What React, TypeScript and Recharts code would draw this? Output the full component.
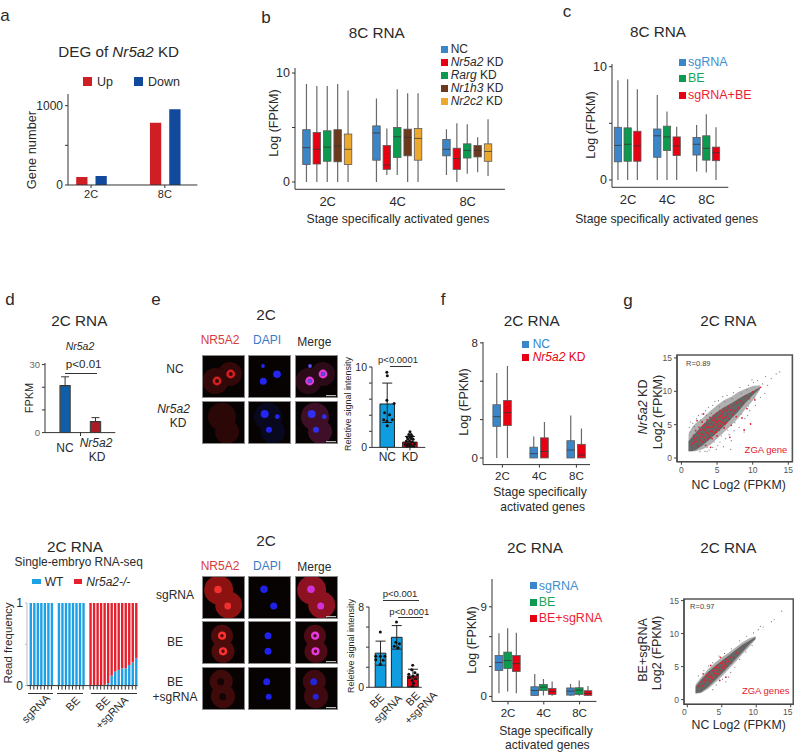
import React from 'react'
import { ComposedChart, Bar, Area, Scatter, XAxis, YAxis, ErrorBar, Cell, ReferenceArea } from 'recharts'

const FONT = '"Liberation Sans", Arial, sans-serif'
const INK = '#2a2a2a'

// panel a
const aStages = ['2C', '8C']
const aUp = [100, 786]
const aDown = [113, 955]

// five number summaries: min, q1, median, q3, max
const bStages = ['2C', '4C', '8C']
const bNC = [[0, 1.6, 3.15, 4.8, 9.0], [0, 2.0, 4.5, 5.15, 7.65], [0.65, 2.4, 3.0, 3.9, 4.85]]
const bNr5a2 = [[0, 1.65, 3.0, 4.55, 8.8], [0.65, 1.15, 1.55, 3.35, 4.9], [0, 1.15, 2.15, 3.1, 5.4]]
const bRarg = [[0, 1.9, 3.2, 4.7, 8.8], [0.65, 2.25, 4.15, 5.0, 8.5], [0.75, 2.2, 2.9, 3.5, 5.3]]
const bNr1h3 = [[0, 1.85, 3.3, 4.8, 9.0], [0, 2.4, 4.1, 4.85, 8.15], [0.9, 2.3, 2.9, 3.35, 4.1]]
const bNr2c2 = [[0, 1.6, 3.0, 4.4, 8.4], [0, 2.0, 4.0, 4.9, 8.15], [0.55, 1.9, 2.8, 3.5, 5.75]]

const cSg = [[0, 1.6, 3.05, 4.65, 8.8], [0, 2.0, 3.9, 4.5, 7.5], [0.75, 2.2, 3.15, 3.75, 4.85]]
const cBE = [[0, 1.65, 3.15, 4.6, 8.9], [0, 2.6, 3.8, 4.75, 6.05], [0.65, 1.75, 2.8, 3.9, 5.8]]
const cBoth = [[0, 1.65, 3.0, 4.3, 8.0], [0, 2.15, 3.0, 3.8, 4.7], [0, 1.7, 2.4, 2.9, 4.65]]

const fNC = [[0, 2.2, 2.87, 3.7, 5.9], [0, 0, 0.3, 0.75, 1.5], [0, 0, 0.55, 1.2, 2.95]]
const fKD = [[0, 2.25, 3.15, 4.0, 6.4], [0, 0, 0.45, 1.4, 2.5], [0, 0, 0.2, 0.95, 2.05]]

const f2Sg = [[0.33, 2.6, 3.4, 4.1, 6.35], [0.07, 0.1, 0.6, 0.97, 2.25], [0.07, 0.13, 0.53, 0.85, 1.25]]
const f2BE = [[0.5, 2.8, 3.6, 4.45, 6.85], [0.1, 0.6, 0.93, 1.2, 1.75], [0.07, 0.2, 0.63, 0.87, 1.6]]
const f2Both = [[0.33, 2.5, 3.3, 4.1, 6.4], [0.07, 0.2, 0.5, 0.8, 1.5], [0.07, 0.1, 0.3, 0.57, 1.05]]

// panel d
const dLabels = ['NC', 'Nr5a2 KD']
const dValues = [20.7, 4.85]
const dErrUp = [3.9, 1.75]

// panel e bars, dots are placed on a position scale where bar n sits at n
const e1Labels = ['NC', 'KD']
const e1Bars = [5.4, 0.66]
const e1ErrLow = [2.3, 0.5]
const e1ErrHigh = [2.6, 0.7]
const e1Dots = [[0.98, 9.35], [1.0, 8.9], [0.98, 5.85], [1.3, 5.45], [0.88, 4.3], [1.1, 4.05], [0.84, 3.45], [1.22, 3.45], [0.98, 3.25], [1.0, 2.7]]
const e1KdDots = [[2.0, 1.95], [1.95, 1.6], [2.05, 1.6], [2.1, 1.4], [1.88, 1.3], [2.0, 1.3], [1.9, 1.05], [2.06, 1.1], [2.14, 1.0], [1.84, 0.75], [1.98, 0.8], [2.1, 0.7], [2.2, 0.45], [1.8, 0.4], [1.92, 0.4], [2.04, 0.35], [1.86, 0.15], [2.0, 0.12], [2.16, 0.15]]

const e2Labels = ['BE', 'sgRNA', 'BE +sgRNA']
const e2Bars = [3.4, 4.98, 1.13]
const e2ErrLow = [1.2, 1.18, 1.08]
const e2ErrHigh = [1.2, 1.17, 0.67]
const e2Dots = [[1.0, 5.5], [0.72, 3.1], [1.0, 3.1], [1.27, 3.1], [0.72, 2.75], [1.18, 2.7], [1.0, 2.3], [2.0, 6.5], [1.96, 4.5], [2.18, 4.35], [1.86, 4.1], [2.1, 3.95], [3.0, 2.2], [2.94, 1.75], [3.14, 1.45], [2.76, 1.3], [3.3, 1.25], [3.02, 1.1], [2.8, 0.95], [3.18, 0.85], [2.96, 0.65], [3.06, 0.4], [3.0, 0.1]]

// single embryo read frequency, '' marks the blank slots between groups
const hSlots = ['s1', 's2', 's3', 's4', 's5', 's6', 's7', '', 'b1', 'b2', 'b3', 'b4', 'b5', 'b6', 'b7', 'b8', '', 'm1', 'm2', 'm3', 'm4', 'm5', 'm6', 'm7', 'm8', 'm9', 'm10', 'm11', 'm12', 'm13', 'm14']
const hWT = [1, 1, 1, 1, 1, 1, 1, null, 1, 1, 1, 1, 1, 1, 1, 1, null, 0, 0, 0, 0, 0.01, 0.03, 0.12, 0.17, 0.19, 0.21, 0.21, 0.25, 0.28, 0.33]

// scatter clouds, band edges
const g1X = [1, 1.5, 2, 3, 4, 5, 6, 7, 8, 9, 10, 11]
const g1OuterLo = [1, 1, 1, 1.3, 1.9, 2.9, 3.9, 4.9, 6, 7.4, 8.6, 10.2]
const g1OuterHi = [3.6, 4.6, 5.2, 6, 7, 7.9, 8.7, 9.2, 9.9, 10.4, 10.8, 10.9]
const g1InnerLo = [1, 1, 1.2, 1.9, 2.8, 3.8, 4.8, 5.9, 7, 8.3, 9.4, 10.4]
const g1InnerHi = [2.5, 3.2, 3.8, 5, 6, 6.9, 7.6, 8.2, 8.9, 9.5, 10, 10.6]
const g1Grey = [[1.1, 4.6], [1.3, 5.4], [1.6, 5.2], [2.1, 5.9], [2.4, 6.4], [2.9, 6.6], [3.4, 7.1], [3.8, 7.6], [4.4, 7.9], [4.7, 8.5], [5.2, 8.6], [5.8, 9.2], [6.4, 9.4], [7.3, 9.8], [8.2, 10.6], [9.4, 10.9], [10.1, 11.3], [10.7, 11.6], [11.4, 11.1], [12.1, 10.9], [12.6, 11.9], [13.3, 12.6], [13.8, 12.9], [11.8, 12.2], [9.9, 11.7], [3.3, 1.0], [3.9, 1.2], [4.4, 1.6], [5.1, 1.9], [5.4, 2.4], [6.2, 2.9], [6.7, 3.5], [7.4, 4.1], [8.1, 4.6], [8.8, 3.9], [8.9, 5.9], [9.6, 7.1], [10.4, 7.9], [11.1, 9.1], [11.7, 9.7], [4.9, 1.3], [5.9, 1.7], [7.0, 2.6], [2.6, 0.95], [3.6, 0.98], [6.9, 1.3], [9.3, 6.4], [10.9, 10.4], [1.2, 3.9], [1.8, 4.7], [2.7, 5.7], [3.5, 6.4], [4.2, 6.7], [5.3, 7.7], [6.1, 8.4], [7.1, 8.9], [8.4, 9.7], [9.2, 10.2], [3.6, 1.6], [4.6, 2.4], [5.6, 3.3], [6.5, 4.2], [7.5, 5.3], [8.4, 6.6], [9.4, 7.8], [10.3, 9.0]]
const g1Red = [[1.4, 1.9], [1.7, 3.4], [1.9, 2.4], [2.0, 4.1], [2.2, 3.1], [2.3, 1.8], [2.5, 4.6], [2.6, 2.7], [2.8, 3.6], [2.9, 5.4], [3.0, 2.4], [3.1, 4.3], [3.2, 3.1], [3.3, 5.0], [3.4, 1.9], [3.5, 3.8], [3.6, 5.7], [3.7, 2.9], [3.8, 4.6], [3.9, 3.4], [4.0, 6.1], [4.1, 4.0], [4.2, 5.2], [4.3, 2.9], [4.4, 4.7], [4.5, 6.4], [4.6, 3.7], [4.7, 5.6], [4.8, 4.3], [4.9, 6.7], [5.0, 3.3], [5.1, 5.1], [5.2, 6.1], [5.3, 4.2], [5.4, 7.1], [5.5, 5.5], [5.6, 4.7], [5.7, 6.5], [5.8, 5.3], [5.9, 7.4], [6.0, 4.5], [6.1, 6.1], [6.2, 7.0], [6.3, 5.3], [6.5, 6.6], [6.6, 7.7], [6.7, 5.9], [6.9, 7.2], [7.0, 4.9], [7.2, 6.5], [7.3, 7.9], [7.5, 7.1], [7.7, 6.2], [7.8, 8.3], [8.0, 7.5], [8.3, 8.6], [8.5, 6.0], [8.7, 8.2], [9.0, 9.3], [9.2, 7.4], [9.5, 8.9], [10.0, 9.9], [10.3, 8.7], [11.1, 10.6], [8.8, 4.2], [9.7, 5.1], [3.1, 6.6], [2.2, 5.6], [6.8, 3.1], [4.1, 1.6], [1.6, 2.2], [1.8, 2.9], [2.1, 2.5], [2.4, 3.7], [2.7, 3.1], [2.7, 4.2], [3.0, 3.5], [3.0, 4.8], [3.3, 4.2], [3.4, 2.7], [3.5, 4.6], [3.7, 3.7], [3.7, 5.2], [4.0, 4.6], [4.0, 3.1], [4.3, 5.7], [4.3, 4.0], [4.6, 5.0], [4.6, 6.0], [4.9, 5.4], [4.9, 3.9], [5.2, 4.7], [5.2, 5.6], [5.5, 6.3], [5.5, 4.9], [5.8, 6.0], [5.8, 6.9], [6.1, 5.1], [6.4, 6.2], [6.4, 7.2]]

const g2X = [1.2, 2, 3, 4, 5, 6, 7, 8, 9, 9.9]
const g2OuterLo = [0.9, 1, 1.6, 2.5, 3.5, 4.6, 5.7, 6.9, 8.0, 9.1]
const g2OuterHi = [2.3, 3.4, 4.6, 5.6, 6.4, 7.1, 7.9, 8.7, 9.3, 9.6]
const g2InnerLo = [0.95, 1.1, 1.9, 2.9, 3.9, 5, 6.1, 7.2, 8.4, 9.2]
const g2InnerHi = [2.0, 3.0, 4.2, 5.1, 5.9, 6.7, 7.5, 8.3, 8.9, 9.5]
const g2Grey = [[1.6, 3.6], [2.4, 4.4], [3.1, 5.1], [3.7, 5.6], [4.6, 6.6], [5.4, 7.0], [6.4, 7.7], [7.6, 8.9], [8.6, 9.6], [9.6, 10.1], [10.3, 10.6], [10.6, 11.1], [11.0, 11.0], [12.2, 11.8], [12.6, 12.1], [13.7, 13.4], [4.2, 2.2], [5.1, 3.1], [5.6, 2.7], [6.3, 4.1], [6.9, 4.9], [7.6, 6.1], [8.5, 7.2], [9.4, 8.2], [6.0, 3.4], [3.7, 1.5]]
const g2Red = [[1.7, 2.0], [2.0, 2.7], [2.2, 2.1], [2.4, 3.2], [2.6, 2.5], [2.8, 3.7], [2.9, 2.9], [3.1, 3.4], [3.2, 4.1], [3.3, 2.8], [3.5, 3.7], [3.6, 4.4], [3.7, 3.2], [3.9, 4.0], [4.0, 4.8], [4.1, 3.5], [4.3, 4.4], [4.4, 5.2], [4.5, 3.9], [4.6, 4.8], [4.8, 5.5], [4.9, 4.4], [5.0, 5.1], [5.2, 5.8], [5.3, 4.7], [5.5, 5.4], [5.7, 6.1], [5.8, 5.1], [6.0, 5.8], [6.2, 6.4], [6.4, 5.6], [6.7, 6.4], [7.1, 7.1], [2.3, 3.9], [3.4, 5.2], [4.7, 2.9], [5.6, 3.4], [4.8, 6.4], [2.5, 2.9], [3.0, 3.9], [3.4, 3.4], [3.8, 4.4], [4.2, 3.9], [4.2, 4.9], [4.7, 4.4], [5.1, 4.8], [5.1, 5.5], [5.4, 5.1], [5.6, 5.7]]

const tickLabel = (shown: number[]) => (v: number) => (shown.includes(v) ? String(v) : '')

const YW = 40
const XH = 26
const PAD = { top: 6, right: 6, left: 0, bottom: 0 }

// wrapper rectangle so the plot area lands on the given axis pixels
const place = (ax: number, xEnd: number, yTop: number, yBottom: number) => ({
    style: { position: 'absolute', left: ax - YW, top: yTop - PAD.top } as React.CSSProperties,
    width: xEnd - ax + YW + PAD.right,
    height: yBottom - yTop + PAD.top + XH,
})

const T = ({ x, y, s = 12, c = INK, r = 0, left = false, children }: any) => (
    <div style={{
        position: 'absolute', left: x, top: y, fontSize: s, color: c, lineHeight: 1, whiteSpace: 'nowrap', fontFamily: FONT,
        transform: `translate(${left ? '0' : '-50%'},-50%) rotate(${r}deg)`,
    }}>{children}</div>
)

const Sq = ({ x, y, w = 7, h = 7, c }: any) => (
    <div style={{ position: 'absolute', left: x, top: y - h / 2, width: w, height: h, background: c }} />
)

const Rule = ({ x, y, w = 1, h = 1, c = '#333' }: any) => (
    <div style={{ position: 'absolute', left: x, top: y, width: w, height: h, background: c }} />
)

const makeBox = (summaries: number[][]) => (props: any) => {
    const { x, y, width, height, fill, index } = props
    const [min, q1, med, q3, max] = summaries[index]
    const perUnit = height / (q3 - q1)
    const yOf = (v: number) => y + (q3 - v) * perUnit
    const cx = x + width / 2
    return (
        <g>
            <line x1={cx} x2={cx} y1={yOf(max)} y2={yOf(min)} stroke="#6a6a6a" strokeWidth={1.2} />
            <rect x={x} y={y} width={width} height={height} fill={fill} stroke="#5a5a5a" strokeWidth={0.8} />
            <line x1={x} x2={x + width} y1={yOf(med)} y2={yOf(med)} stroke="#333" strokeWidth={0.9} opacity={0.85} />
        </g>
    )
}

const BoxPanel = ({ ax, xEnd, yTop, yBottom, padLeft, padRight, stages, series, colors, domain, ticks, shown, boxW, gap, tickSize, xSize, xTick = false }: any) => {
    const rows = stages.map((stage: string, i: number) => {
        const row: any = { stage }
        series.forEach((s: number[][], k: number) => { row['s' + k] = [s[i][1], s[i][3]] })
        return row
    })
    const p = place(ax, xEnd, yTop, yBottom)
    return (
        <div style={p.style}>
            <ComposedChart width={p.width} height={p.height} data={rows} margin={PAD} barSize={boxW} barGap={gap}>
                <XAxis dataKey="stage" padding={{ left: padLeft, right: padRight }} height={XH} interval={0}
                    stroke="#333" tick={{ fontSize: xSize, fill: INK, fontFamily: FONT }} tickLine={xTick} tickSize={3} tickMargin={4} />
                <YAxis width={YW} type="number" domain={domain} ticks={ticks} interval={0} allowDataOverflow
                    stroke="#333" tick={{ fontSize: tickSize, fill: INK, fontFamily: FONT }} tickSize={3} tickFormatter={tickLabel(shown)} />
                {series.map((s: number[][], k: number) => (
                    <Bar key={k} dataKey={'s' + k} fill={colors[k]} isAnimationActive={false} shape={makeBox(s)} />
                ))}
            </ComposedChart>
        </div>
    )
}

const dot = (r: number, fill: string) => (props: any) => <circle cx={props.cx} cy={props.cy} r={r} fill={fill} />
const toPoints = (list: number[][]) => list.map(([x, y]) => ({ x, y }))

const CloudPanel = ({ ax, xEnd, yTop, yBottom, xDomain, yDomain, xs, outerLo, outerHi, innerLo, innerHi, grey, red, tickDx = 0 }: any) => {
    const band = xs.map((x: number, i: number) => ({ x, outer: [outerLo[i], outerHi[i]], inner: [innerLo[i], innerHi[i]] }))
    const p = place(ax, xEnd, yTop, yBottom)
    return (
        <div style={p.style}>
            <ComposedChart width={p.width} height={p.height} margin={PAD}>
                <XAxis dataKey="x" type="number" domain={xDomain} ticks={[0, 5, 10, 15]} interval={0} allowDataOverflow height={XH}
                    stroke="#444" tick={{ fontSize: 8.5, fill: '#555', fontFamily: FONT, dx: tickDx }} tickSize={3} />
                <YAxis dataKey="y" width={YW} type="number" domain={yDomain} ticks={[0, 5, 10, 15]} interval={0} allowDataOverflow
                    stroke="#444" tick={{ fontSize: 8.5, fill: '#555', fontFamily: FONT }} tickSize={3} />
                <ReferenceArea x1={xDomain[0]} x2={xDomain[1]} y1={yDomain[0]} y2={yDomain[1]} fill="none" stroke="#555" strokeWidth={1.6} ifOverflow="visible" />
                <Area data={band} dataKey="outer" stroke="none" fill="#9c9c9c" fillOpacity={0.8} isAnimationActive={false} dot={false} />
                <Area data={band} dataKey="inner" stroke="none" fill="#626262" fillOpacity={0.95} isAnimationActive={false} dot={false} />
                <Scatter data={toPoints(grey)} fill="#777" isAnimationActive={false} shape={dot(0.6, '#777')} />
                <Scatter data={toPoints(red)} fill="#de2430" isAnimationActive={false} shape={dot(0.9, '#de2430')} />
            </ComposedChart>
        </div>
    )
}

// bars on a category axis, dots on a hidden position axis laid over it
const DotBars = ({ ax, xEnd, yTop, yBottom, padLeft, padRight, posDomain, yDomain, yTicks, shown, names, values, errLow, errHigh, colors, dots, barW, showNames }: any) => {
    const rows = names.map((name: string, i: number) => ({ name, value: values[i], err: [errLow[i], errHigh[i]] }))
    const p = place(ax, xEnd, yTop, yBottom)
    return (
        <div style={p.style}>
            <ComposedChart width={p.width} height={p.height} data={rows} margin={PAD} barSize={barW}>
                <XAxis dataKey="name" padding={{ left: padLeft, right: padRight }} interval={0} height={XH} stroke="#333" tickSize={3}
                    tick={showNames ? { fontSize: 12, fill: INK, fontFamily: FONT } : false} />
                <XAxis xAxisId="pos" dataKey="x" type="number" domain={posDomain} allowDataOverflow hide />
                <YAxis width={YW} type="number" domain={yDomain} ticks={yTicks} interval={0} allowDataOverflow
                    stroke="#333" tick={{ fontSize: 10.5, fill: INK, fontFamily: FONT }} tickSize={3} tickFormatter={tickLabel(shown)} />
                <Bar dataKey="value" stroke="#222" strokeWidth={1} isAnimationActive={false}>
                    {values.map((_: number, i: number) => <Cell key={i} fill={colors[i]} />)}
                    <ErrorBar dataKey="err" direction="y" width={5} stroke="#222" strokeWidth={1} isAnimationActive={false} />
                </Bar>
                <Scatter xAxisId="pos" data={toPoints(dots)} dataKey="y" fill="#111" isAnimationActive={false} shape={dot(1.5, '#111')} />
            </ComposedChart>
        </div>
    )
}

// fluorescence tiles: cell bodies, nuclei, rings
const Micro = ({ x, y, body = [], nuclei = [], ring = [], bodyColor, nucColor, ringColor = '#ff3030', scale = false }: any) => (
    <svg width={43} height={43} style={{ position: 'absolute', left: x, top: y, background: '#070303', outline: '1px solid #8a8a8a', outlineOffset: -1 }}>
        <g style={{ filter: 'blur(0.7px)' }}>
            {body.map((b: number[], i: number) => <circle key={i} cx={b[0]} cy={b[1]} r={b[2]} fill={bodyColor} />)}
            {ring.map((b: number[], i: number) => <circle key={i} cx={b[0]} cy={b[1]} r={b[2]} fill="none" stroke={ringColor} strokeWidth={2.4} />)}
            {nuclei.map((b: number[], i: number) => <circle key={i} cx={b[0]} cy={b[1]} r={b[2]} fill={nucColor} />)}
        </g>
        {scale && <rect x={31} y={40} width={10} height={1.2} fill="#bbb" />}
    </svg>
)

const COLX = [201.7, 248.3, 294.7]
const topCells = [[13.5, 26, 13], [28, 19, 12]]
const koCells = [[20, 15.7, 14], [25, 30.7, 12]]
const sgCells = [[16.7, 14, 14.5], [26.7, 29, 13.5]]
const beCells = [[20, 14.7, 11], [21, 30.3, 11.5]]
const bothCells = [[19.3, 14.3, 11.5], [21, 29.3, 12]]

const Tiles = () => (
    <>
        <Micro x={COLX[0]} y={355.3} body={topCells} bodyColor="#330808" ring={[[15, 26, 3.2], [28.7, 19, 3.2]]} ringColor="#d81f1f" />
        <Micro x={COLX[1]} y={355.3} nuclei={[[29, 19.3, 3.8], [15.3, 26.3, 3.5], [15, 11, 1.9]]} nucColor="#2326f2" />
        <Micro x={COLX[2]} y={355.3} body={topCells} bodyColor="#2c0b18" ring={[[14.7, 26, 3.2], [28, 19, 3.2]]} ringColor="#e638d8" nuclei={[[14.7, 26, 1.9], [28, 19, 1.9], [15, 11, 1.9]]} nucColor="#5a50ee" scale />

        <Micro x={COLX[0]} y={401} body={koCells} bodyColor="#2b0707" />
        <Micro x={COLX[1]} y={401} body={koCells} bodyColor="#08081f" nuclei={[[16.7, 13, 4], [29.3, 15.7, 2.4], [21, 28.7, 3]]} nucColor="#2326f2" />
        <Micro x={COLX[2]} y={401} body={koCells} bodyColor="#3e0f26" nuclei={[[16.7, 13, 4], [29.3, 15.7, 2.4], [21, 28.7, 3]]} nucColor="#3030ee" scale />

        <Micro x={COLX[0]} y={576} body={sgCells} bodyColor="#8c1212" nuclei={[[16, 13.5, 3.8], [25.7, 30, 3.4]]} nucColor="#f03030" />
        <Micro x={COLX[1]} y={576} nuclei={[[16, 13.3, 3.8], [25.7, 30, 3.5]]} nucColor="#2020e8" />
        <Micro x={COLX[2]} y={576} body={sgCells} bodyColor="#8c1222" nuclei={[[16, 13.3, 3.8], [25.7, 30, 3.5]]} nucColor="#d030d8" scale />

        <Micro x={COLX[0]} y={621.3} body={beCells} bodyColor="#4e0b0b" ring={[[20, 14.7, 2.9], [21, 30.3, 2.9]]} />
        <Micro x={COLX[1]} y={621.3} nuclei={[[20, 14.7, 3.5], [20, 30.3, 3.5]]} nucColor="#2020f0" />
        <Micro x={COLX[2]} y={621.3} body={beCells} bodyColor="#4e0b16" ring={[[20, 14.7, 2.9], [20.5, 30.3, 2.9]]} ringColor="#e838e0" scale />

        <Micro x={COLX[0]} y={667.3} body={bothCells} bodyColor="#3e0a0a" nuclei={[[18.7, 14.7, 3.5], [20.7, 29.7, 3.5]]} nucColor="#140404" />
        <Micro x={COLX[1]} y={667.3} nuclei={[[18.7, 14.7, 3.5], [20.7, 29.7, 3]]} nucColor="#2020e8" />
        <Micro x={COLX[2]} y={667.3} body={bothCells} bodyColor="#3e0a10" nuclei={[[18.7, 14.7, 3.5], [20.7, 29.7, 3]]} nucColor="#2424d8" scale />
    </>
)

const App = () => {
    const BLUE = '#3a86c8'
    const RED = '#e60012'
    const GREEN = '#0b9a4f'
    const BROWN = '#6b3a1c'
    const ORANGE = '#eda92e'

    const aRows = aStages.map((stage, i) => ({ stage, up: aUp[i], down: aDown[i] }))
    const aBox = place(68.3, 197.7, 94.3, 185.3)
    const dRows = dLabels.map((name, i) => ({ name, value: dValues[i], err: [0, dErrUp[i]] }))
    const dBox = place(45, 115.3, 362.7, 432.3)
    const hRows = hSlots.map((slot, i) => ({ slot, wt: hWT[i], mut: hWT[i] === null ? null : 1 - (hWT[i] as number) }))
    const hBox = place(26.7, 137.3, 602.7, 685.3)

    return (
        <div style={{ position: 'absolute', left: 0, top: 0, width: 794, height: 753, overflow: 'hidden', background: '#fff', fontFamily: FONT }}>
            {/* a */}
            <div style={aBox.style}>
                <ComposedChart width={aBox.width} height={aBox.height} data={aRows} margin={PAD} barSize={11.3} barGap={8}>
                    <XAxis dataKey="stage" padding={{ left: -13.8, right: -4.3 }} height={XH} stroke="#333"
                        tick={{ fontSize: 11, fill: INK, fontFamily: FONT }} tickSize={3} />
                    <YAxis width={YW} type="number" domain={[0, 1147]} ticks={[0, 500, 1000]} interval={0} allowDataOverflow stroke="#333"
                        tick={{ fontSize: 12, fill: INK, fontFamily: FONT }} tickSize={3} tickFormatter={tickLabel([0, 1000])} />
                    <Bar dataKey="up" fill="#cf1f25" isAnimationActive={false} />
                    <Bar dataKey="down" fill="#12499c" isAnimationActive={false} />
                </ComposedChart>
            </div>

            <BoxPanel ax={295} xEnd={505} yTop={67.7} yBottom={189} padLeft={-2.3} padRight={2.3} stages={bStages}
                series={[bNC, bNr5a2, bRarg, bNr1h3, bNr2c2]} colors={[BLUE, RED, GREEN, BROWN, ORANGE]}
                domain={[-0.67, 10.46]} ticks={[0, 5, 10]} shown={[0, 10]} boxW={7.5} gap={2.9} tickSize={12.5} xSize={13} />

            <BoxPanel ax={612} xEnd={728.3} yTop={64} yBottom={187.3} padLeft={-3.7} padRight={2} stages={bStages}
                series={[cSg, cBE, cBoth]} colors={[BLUE, GREEN, RED]}
                domain={[-0.65, 10.24]} ticks={[0, 5, 10]} shown={[0, 10]} boxW={7.3} gap={2.4} tickSize={12.5} xSize={13} />

            <BoxPanel ax={483.3} xEnd={590.3} yTop={341.7} yBottom={464.3} padLeft={0.9} padRight={-4.9} stages={bStages}
                series={[fNC, fKD]} colors={[BLUE, RED]}
                domain={[-0.46, 8.06]} ticks={[0, 8 / 3, 16 / 3, 8]} shown={[0, 8]} boxW={7.7} gap={3} tickSize={11.5} xSize={11.5} xTick />

            <BoxPanel ax={492.3} xEnd={596.7} yTop={579.3} yBottom={701.7} padLeft={-1.9} padRight={-1.1} stages={bStages}
                series={[f2Sg, f2BE, f2Both]} colors={[BLUE, GREEN, RED]}
                domain={[-0.5, 11.79]} ticks={[0, 3, 6, 9]} shown={[0, 9]} boxW={7.7} gap={1} tickSize={11.5} xSize={11.5} xTick />

            {/* d */}
            <div style={dBox.style}>
                <ComposedChart width={dBox.width} height={dBox.height} data={dRows} margin={PAD} barSize={10}>
                    <XAxis dataKey="name" padding={{ left: 5.1, right: 4.4 }} height={XH} stroke="#333" tick={false} tickLine={false} />
                    <YAxis width={YW} type="number" domain={[0, 30.7]} ticks={[0, 10, 20, 30]} interval={0} allowDataOverflow stroke="#333"
                        tick={{ fontSize: 9.5, fill: '#666', fontFamily: FONT }} tickSize={3} tickFormatter={tickLabel([0, 30])} />
                    <Bar dataKey="value" stroke="#444" strokeWidth={1.4} isAnimationActive={false}>
                        <Cell fill="#0f5fa8" />
                        <Cell fill="#aa1c25" />
                        <ErrorBar dataKey="err" direction="y" width={4} stroke="#333" strokeWidth={1} isAnimationActive={false} />
                    </Bar>
                </ComposedChart>
            </div>

            <DotBars ax={371.7} xEnd={425} yTop={367.3} yBottom={447.7} padLeft={3.97} padRight={4} posDomain={[0.325, 2.676]} yDomain={[0, 10]} yTicks={[0, 2, 4, 6, 8, 10]} shown={[0, 10]}
                names={e1Labels} values={e1Bars} errLow={e1ErrLow} errHigh={e1ErrHigh} colors={['#0f9ddf', '#e60012']} dots={[...e1Dots, ...e1KdDots]} barW={14.5} showNames />

            <DotBars ax={369} xEnd={421.7} yTop={606.7} yBottom={687} padLeft={3.2} padRight={0.9} posDomain={[0.3, 3.556]} yDomain={[0, 8]} yTicks={[0, 2, 4, 6, 8]} shown={[0, 8]}
                names={e2Labels} values={e2Bars} errLow={e2ErrLow} errHigh={e2ErrHigh} colors={['#0f9ddf', '#0f9ddf', '#e60012']} dots={e2Dots} barW={10.7} />

            {/* single embryo */}
            <div style={hBox.style}>
                <ComposedChart width={hBox.width} height={hBox.height} data={hRows} margin={PAD} barSize={2.4}>
                    <XAxis dataKey="slot" padding={{ left: 1.6, right: 0 }} height={XH} interval={0} stroke="#333" tickLine={false}
                        tick={(p: any) => (p.payload.value ? <line x1={p.x} x2={p.x} y1={p.y - 8} y2={p.y - 4} stroke="#333" /> : <g />)} />
                    <YAxis width={YW} type="number" domain={[0, 1]} ticks={[0, 0.5, 1]} interval={0} stroke="#bbb"
                        tick={{ fontSize: 12, fill: INK, fontFamily: FONT }} tickSize={2} tickFormatter={tickLabel([0, 1])} />
                    <Bar dataKey="wt" stackId="a" fill="#1ea0e6" isAnimationActive={false} />
                    <Bar dataKey="mut" stackId="a" fill="#e6202c" isAnimationActive={false} />
                </ComposedChart>
            </div>

            <CloudPanel ax={677.3} xEnd={792.7} yTop={355} yBottom={461.7} xDomain={[-0.62, 15.57]} yDomain={[-0.55, 15.44]}
                xs={g1X} outerLo={g1OuterLo} outerHi={g1OuterHi} innerLo={g1InnerLo} innerHi={g1InnerHi} grey={g1Grey} red={g1Red} />
            <CloudPanel ax={684} xEnd={793.3} yTop={598.7} yBottom={704} xDomain={[-0.48, 15.38]} yDomain={[-0.71, 15.24]}
                xs={g2X} outerLo={g2OuterLo} outerHi={g2OuterHi} innerLo={g2InnerLo} innerHi={g2InnerHi} grey={g2Grey} red={g2Red} tickDx={-3} />

            <Tiles />

            {/* panel letters */}
            <T x={5} y={15} s={17}>a</T>
            <T x={266} y={17} s={17}>b</T>
            <T x={567} y={11} s={17}>c</T>
            <T x={10} y={299} s={17}>d</T>
            <T x={156} y={299} s={17}>e</T>
            <T x={443} y={299} s={17}>f</T>
            <T x={628} y={300} s={17}>g</T>

            {/* a text */}
            <T x={118.7} y={51.7} s={15.2}>DEG of <i>Nr5a2</i> KD</T>
            <Sq x={83} y={81.7} w={9} h={9} c="#cf1f25" />
            <T x={97} y={81.7} s={12.5} left>Up</T>
            <Sq x={134} y={81.7} w={9} h={9} c="#12499c" />
            <T x={148} y={81.7} s={12.5} left>Down</T>
            <T x={31.7} y={150} s={12.8} r={-90}>Gene number</T>

            {/* b text */}
            <T x={376.7} y={32.7} s={15.3}>8C RNA</T>
            <Sq x={441} y={49} c={BLUE} /><T x={450.7} y={49} left>NC</T>
            <Sq x={441} y={62} c={RED} /><T x={450.7} y={62} left><i>Nr5a2</i> KD</T>
            <Sq x={441} y={75} c={GREEN} /><T x={450.7} y={75} left><i>Rarg</i> KD</T>
            <Sq x={441} y={88} c={BROWN} /><T x={450.7} y={88} left><i>Nr1h3</i> KD</T>
            <Sq x={441} y={101.3} c={ORANGE} /><T x={450.7} y={101.3} left><i>Nr2c2</i> KD</T>
            <T x={274} y={123} s={12.5} r={-90}>Log (FPKM)</T>
            <T x={398} y={218.7} s={12.2}>Stage specifically activated genes</T>

            {/* c text */}
            <T x={658} y={31.7} s={15.3}>8C RNA</T>
            <Sq x={678.7} y={62} c={BLUE} /><T x={688} y={62} s={12.5} c="#3f8fd0" left>sgRNA</T>
            <Sq x={678.7} y={78.3} c={GREEN} /><T x={688} y={78.3} s={12.5} c="#1aa65a" left>BE</T>
            <Sq x={678.7} y={95} c={RED} /><T x={688} y={95} s={12.5} c="#ef1c34" left>sgRNA+BE</T>
            <T x={591} y={125} s={12.5} r={-90}>Log (FPKM)</T>
            <T x={666.7} y={219} s={12.2}>Stage specifically activated genes</T>

            {/* d text */}
            <T x={79.3} y={321} s={15.3}>2C RNA</T>
            <T x={80} y={345.7} s={10.5}><i>Nr5a2</i></T>
            <T x={83.7} y={364.3} s={11.6}>p&lt;0.01</T>
            <Rule x={65} y={373} w={32} />
            <Rule x={80} y={432} h={4} />
            <T x={29.3} y={398} s={11} r={-90}>FPKM</T>
            <T x={65} y={448.3} s={12}>NC</T>
            <T x={96} y={442.7} s={12}><i>Nr5a2</i></T>
            <T x={97} y={457.3} s={12}>KD</T>

            {/* e top text */}
            <T x={266} y={315} s={15.3}>2C</T>
            <T x={220} y={340} s={12} c="#d93a3a">NR5A2</T>
            <T x={267} y={340} s={12} c="#3b7cc4">DAPI</T>
            <T x={314.3} y={341.7} s={12}>Merge</T>
            <T x={175} y={369.3} s={12}>NC</T>
            <T x={173.5} y={408.7} s={12}><i>Nr5a2</i></T>
            <T x={178} y={423.3} s={12}>KD</T>
            <T x={348.3} y={404.3} s={9} r={-90}>Reletive signal intensity</T>
            <T x={398} y={360} s={9.5}>p&lt;0.0001</T>
            <Rule x={390} y={366} w={21} />

            {/* e bottom text */}
            <T x={266} y={540.7} s={15.3}>2C</T>
            <T x={220} y={565.7} s={12} c="#d93a3a">NR5A2</T>
            <T x={267} y={565.7} s={12} c="#3b7cc4">DAPI</T>
            <T x={314.3} y={567.3} s={12}>Merge</T>
            <T x={175} y={595} s={12}>sgRNA</T>
            <T x={175} y={642.3} s={12}>BE</T>
            <T x={175} y={682.3} s={12}>BE</T>
            <T x={175} y={697.3} s={12}>+sgRNA</T>
            <T x={351} y={646} s={9} r={-90}>Reletive signal intensity</T>
            <T x={400} y={594} s={9.5}>p&lt;0.001</T>
            <Rule x={382.7} y={600} w={36.3} />
            <T x={409.3} y={611.5} s={9.5}>p&lt;0.0001</T>
            <Rule x={398} y={617} w={25.3} />
            <T x={376.7} y={700.7} s={11} r={-45}>BE</T>
            <T x={388.3} y={709} s={11} r={-45}>sgRNA</T>
            <T x={412.7} y={699} s={11} r={-45}>BE</T>
            <T x={420.7} y={708.3} s={11} r={-45}>+sgRNA</T>

            {/* f text */}
            <T x={531.7} y={320.7} s={15.3}>2C RNA</T>
            <Sq x={522} y={344.3} c={BLUE} /><T x={532.7} y={344.3} c="#2f86cc" left>NC</T>
            <Sq x={522} y={357.3} c={RED} /><T x={532.7} y={357.3} c={RED} left><i>Nr5a2</i> KD</T>
            <T x={464.3} y={401.7} s={12.5} r={-90}>Log (FPKM)</T>
            <T x={540} y={492} s={12.1}>Stage specifically</T>
            <T x={542.7} y={506.7} s={12.1}>activated genes</T>

            <T x={535} y={548.3} s={15.3}>2C RNA</T>
            <Sq x={530} y={585.7} c={BLUE} /><T x={538.7} y={585.7} s={12.5} c="#3f8fd0" left>sgRNA</T>
            <Sq x={530} y={602} c={GREEN} /><T x={538.7} y={602} s={12.5} c="#1aa65a" left>BE</T>
            <Sq x={530} y={618.3} c={RED} /><T x={538.7} y={618.3} s={12.5} c="#ef1c34" left>BE+sgRNA</T>
            <T x={471.7} y={640} s={12.5} r={-90}>Log (FPKM)</T>
            <T x={546} y={730.7} s={12.1}>Stage specifically</T>
            <T x={547.3} y={745} s={12.1}>activated genes</T>

            {/* g text */}
            <T x={728.3} y={320.7} s={15.3}>2C RNA</T>
            <T x={642.7} y={406.7} s={12.5} r={-90}><i>Nr5a2</i> KD</T>
            <T x={658.3} y={411.7} s={12.5} r={-90}>Log2 (FPKM)</T>
            <T x={738.7} y={485} s={12.3}>NC Log2 (FPKM)</T>
            <T x={698.3} y={364} s={7.5} c="#444">R=0.89</T>
            <T x={766} y={450.3} s={9.5} c="#e3202c">ZGA gene</T>

            <T x={728.3} y={548.3} s={15.3}>2C RNA</T>
            <T x={642.7} y={650} s={12.5} r={-90}>BE+sgRNA</T>
            <T x={657.3} y={653.3} s={12.5} r={-90}>Log2 (FPKM)</T>
            <T x={738.7} y={725} s={12.3}>NC Log2 (FPKM)</T>
            <T x={702.3} y={607.3} s={7.5} c="#444">R=0.97</T>
            <T x={765.7} y={690.7} s={9.5} c="#e3202c">ZGA genes</T>

            {/* single embryo text */}
            <T x={75} y={547} s={15.3}>2C RNA</T>
            <T x={78.7} y={563} s={11.9}>Single-embryo RNA-seq</T>
            <Sq x={31.7} y={581.3} w={9} h={4.5} c="#1ea0e6" />
            <T x={54} y={581.7} s={12}>WT</T>
            <Sq x={73.7} y={581.3} w={8} h={4.5} c="#e6202c" />
            <T x={108.3} y={581.7} s={12}><i>Nr5a2-/-</i></T>
            <T x={9} y={643.3} s={11.5} r={-90}>Read frequency</T>
            <Rule x={28.3} y={693.3} w={24.4} />
            <Rule x={57} y={693.3} w={26.3} />
            <Rule x={90.7} y={693.3} w={46} />
            <T x={36} y={709.3} s={11} r={-45}>sgRNA</T>
            <T x={72.7} y={704} s={11} r={-45}>BE</T>
            <T x={102.7} y={704} s={11} r={-45}>BE</T>
            <T x={111.7} y={712.7} s={11} r={-45}>+sgRNA</T>
        </div>
    )
}

export default App
